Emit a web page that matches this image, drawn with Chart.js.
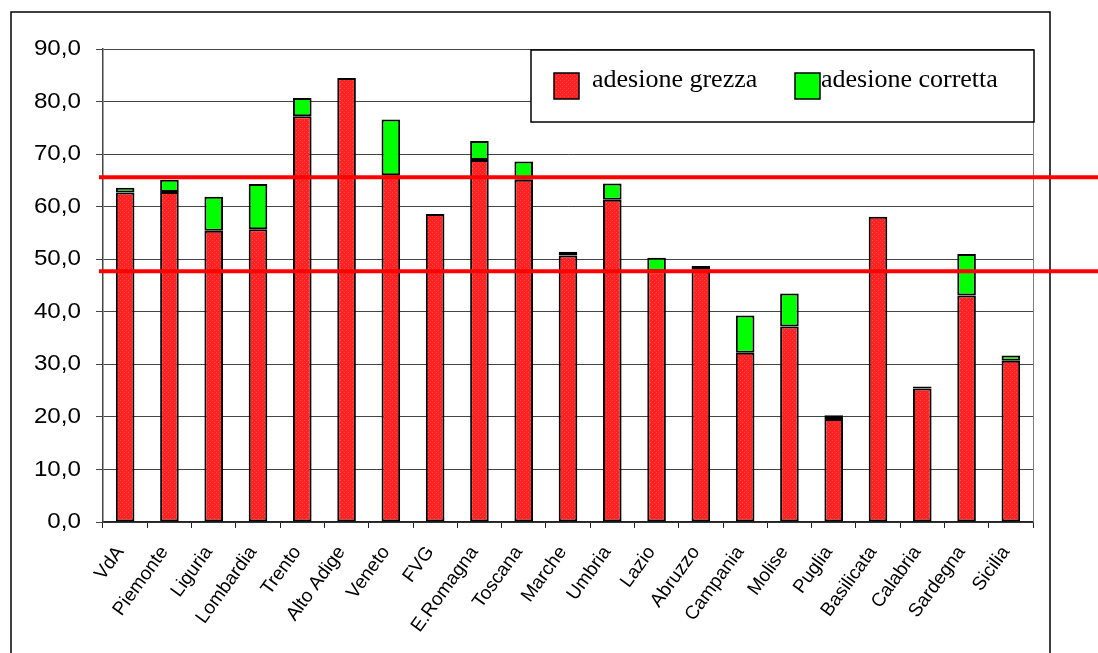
<!DOCTYPE html>
<html>
<head>
<meta charset="utf-8">
<script src="https://cdn.jsdelivr.net/npm/chart.js@4/dist/chart.umd.min.js"></script>
<style>
  body { margin: 0; background: #fff; }
  canvas { display: block; }
</style>
</head>
<body>
<canvas id="adesione" width="1098" height="653"></canvas>
<script>
// regioni
const regioni = ['VdA', 'Piemonte', 'Liguria', 'Lombardia', 'Trento', 'Alto Adige', 'Veneto', 'FVG',
  'E.Romagna', 'Toscana', 'Marche', 'Umbria', 'Lazio', 'Abruzzo', 'Campania', 'Molise', 'Puglia',
  'Basilicata', 'Calabria', 'Sardegna', 'Sicilia'];

// adesione grezza (%)
const adesioneGrezza = [62.7, 62.8, 55.4, 55.7, 77.2, 84.5, 66.0, 58.6, 68.9, 65.1, 50.7,
  61.3, 47.7, 48.1, 32.2, 37.2, 19.6, 58.1, 25.4, 43.1, 30.7];

// adesione corretta (%)
const adesioneCorretta = [63.6, 65.1, 61.9, 64.3, 80.7, 84.5, 76.6, 58.6, 72.5, 68.6, 51.4,
  64.4, 50.3, 48.7, 39.3, 43.5, 20.3, 58.1, 25.8, 51.0, 31.7];

// linee di riferimento
const lineeRiferimento = [65.6, 47.7];

// tick asse y
const yMin = 0, yMax = 90, yStep = 10;

const canvas = document.getElementById('adesione');
const ctx = canvas.getContext('2d');

// rosso puntinato come nel grafico excel
function retinoRosso() {
  const c = document.createElement('canvas');
  c.width = 4; c.height = 4;
  const g = c.getContext('2d');
  g.fillStyle = '#ff2222';
  g.fillRect(0, 0, 4, 4);
  g.fillStyle = '#ff4a4a';
  g.fillRect(0, 0, 1, 1);
  g.fillRect(2, 2, 1, 1);
  return ctx.createPattern(c, 'repeat');
}
const rossoPattern = retinoRosso();

const quotaCorretta = adesioneCorretta.map((v, i) => +(v - adesioneGrezza[i]).toFixed(1));

const fmt = v => v.toFixed(1).replace('.', ',');

const cornice = {
  id: 'cornice',
  beforeDraw(chart) {
    const c = chart.ctx;
    c.save();
    c.fillStyle = '#fff';
    c.fillRect(0, 0, chart.width, chart.height);
    c.strokeStyle = '#000';
    c.lineWidth = 1.5;
    c.strokeRect(11, 12, 1050 - 11, 700);
    c.restore();
  },
  afterDatasetsDraw(chart) {
    const c = chart.ctx;
    const a = chart.chartArea;
    const y = chart.scales.y;
    c.save();
    // bordo destro area
    c.strokeStyle = '#808080';
    c.lineWidth = 1;
    c.beginPath();
    c.moveTo(a.right + 0.5, a.top);
    c.lineTo(a.right + 0.5, a.bottom);
    c.stroke();
    // linee rosse
    c.strokeStyle = '#ff0000';
    c.lineWidth = 4;
    lineeRiferimento.forEach(v => {
      const py = y.getPixelForValue(v);
      c.beginPath();
      c.moveTo(a.left - 4, py);
      c.lineTo(chart.width, py);
      c.stroke();
    });
    c.restore();
  },
  afterDraw(chart) {
    const c = chart.ctx;
    const y = chart.scales.y;
    c.save();
    // etichette asse y, leggermente allargate
    c.font = '22px "Liberation Sans", Arial, sans-serif';
    c.fillStyle = '#000';
    c.textAlign = 'right';
    c.textBaseline = 'middle';
    y.ticks.forEach(t => {
      const py = y.getPixelForValue(t.value);
      c.save();
      c.translate(81, py);
      c.scale(1.1, 1);
      c.fillText(fmt(t.value), 0, 0);
      c.restore();
    });

    // legenda
    c.fillStyle = '#fff';
    c.fillRect(531, 50, 503, 72);
    c.strokeStyle = '#000';
    c.lineWidth = 1.5;
    c.strokeRect(531, 50, 503, 72);
    c.font = '26px "Liberation Serif", "Times New Roman", serif';
    c.textAlign = 'left';
    c.textBaseline = 'alphabetic';
    const voci = [
      { x: 554, tx: 592, fill: rossoPattern, label: chart.data.datasets[0].label },
      { x: 795, tx: 821, fill: '#00ff00', label: chart.data.datasets[1].label }
    ];
    voci.forEach(v => {
      c.fillStyle = v.fill;
      c.fillRect(v.x, 73, 25, 26);
      c.strokeStyle = '#000';
      c.lineWidth = 1.5;
      c.strokeRect(v.x, 73, 25, 26);
      c.fillStyle = '#000';
      c.fillText(v.label, v.tx, 87);
    });
    c.restore();
  }
};

const chart = new Chart(ctx, {
  type: 'bar',
  data: {
    labels: regioni,
    datasets: [
      {
        label: 'adesione grezza',
        data: adesioneGrezza,
        backgroundColor: rossoPattern,
        borderColor: '#000',
        borderWidth: 2,
        borderSkipped: false
      },
      {
        label: 'adesione corretta',
        data: quotaCorretta,
        backgroundColor: '#00ff00',
        borderColor: '#000',
        borderWidth: 2,
        borderSkipped: false
      }
    ]
  },
  options: {
    responsive: false,
    animation: false,
    layout: { padding: { left: 0, top: 49, right: 65, bottom: 0 } },
    datasets: {
      bar: { categoryPercentage: 1.0, barPercentage: 0.42 }
    },
    plugins: {
      legend: { display: false },
      tooltip: { enabled: false }
    },
    scales: {
      x: {
        stacked: true,
        afterFit(scale) { scale.height = 131; },
        grid: {
          offset: true,
          drawOnChartArea: false,
          drawTicks: true,
          tickLength: 6,
          color: '#222'
        },
        border: { color: '#222', width: 1.5 },
        ticks: {
          autoSkip: false,
          maxRotation: 54,
          minRotation: 54,
          padding: 14,
          labelOffset: -5,
          color: '#000',
          font: { family: '"Liberation Sans", Arial, sans-serif', size: 19 }
        }
      },
      y: {
        stacked: true,
        min: yMin,
        max: yMax,
        afterFit(scale) { scale.width = 103; },
        grid: {
          color: '#444',
          lineWidth: 1,
          tickLength: 7
        },
        border: { color: '#444', width: 1.5 },
        ticks: {
          stepSize: yStep,
          color: 'rgba(0,0,0,0)',
          font: { family: '"Liberation Sans", Arial, sans-serif', size: 19 },
          callback: fmt
        }
      }
    }
  },
  plugins: [cornice]
});
</script>
</body>
</html>
